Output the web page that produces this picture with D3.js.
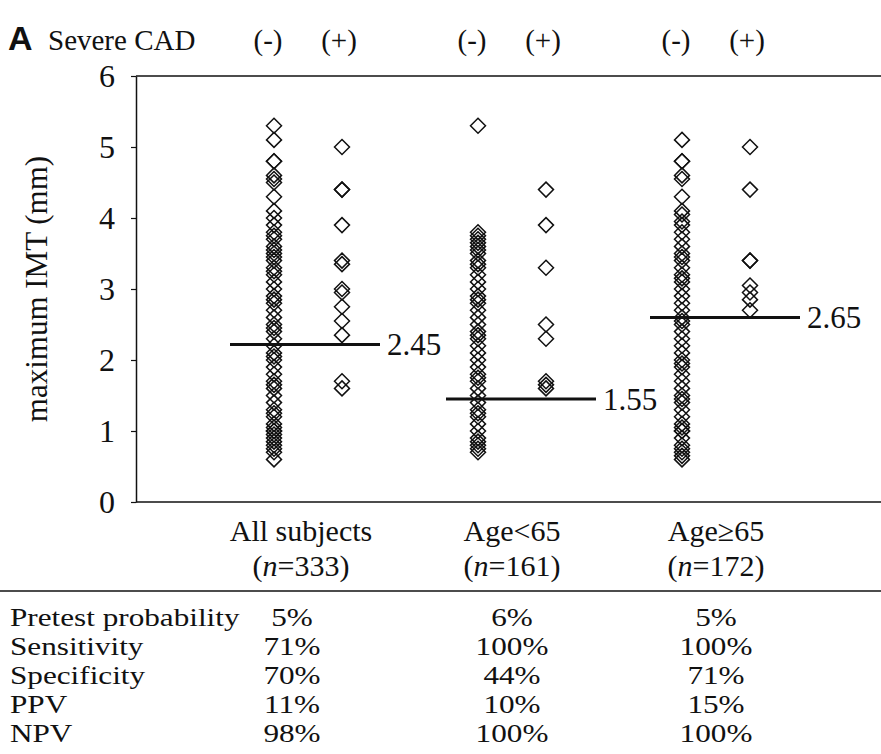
<!DOCTYPE html>
<html>
<head>
<meta charset="utf-8">
<script src="https://cdn.jsdelivr.net/npm/d3@7"></script>
<style>
  body { margin: 0; background: #fff; }
  text { font-family: "Liberation Serif", "Times New Roman", serif; fill: #111; }
</style>
</head>
<body>
<div id="chart"></div>
<script>
// groups along the x axis
const groups = ["All subjects", "Age<65", "Age≥65"];
const groupN = ["333", "161", "172"];
const cutoffLabels = ["2.45", "1.55", "2.65"];
const cutoffLine = [2.22, 1.45, 2.6];

// maximum IMT (mm), severe CAD (-) and (+)
const negAll = [5.3, 5.1, 4.8, 4.8, 4.6, 4.55, 4.5, 4.3, 4.1, 4.0, 3.9, 3.8, 3.75, 3.7, 3.6, 3.55,
  3.5, 3.45, 3.4, 3.3, 3.25, 3.2, 3.1, 3.0, 2.9, 2.85, 2.8, 2.7, 2.6, 2.5, 2.45, 2.4, 2.3, 2.2,
  2.1, 2.05, 2.0, 1.9, 1.8, 1.7, 1.65, 1.6, 1.5, 1.4, 1.3, 1.25, 1.2, 1.1, 1.05, 1.0, 1.0, 0.95,
  0.9, 0.85, 0.8, 0.75, 0.7, 0.6];
const posAll = [5.0, 4.4, 4.4, 3.9, 3.4, 3.35, 3.0, 2.95, 2.75, 2.55, 2.35, 1.7, 1.6];
const negYoung = [5.3, 3.8, 3.75, 3.7, 3.65, 3.6, 3.55, 3.5, 3.4, 3.35, 3.3, 3.2, 3.1, 3.0, 2.9,
  2.85, 2.8, 2.7, 2.6, 2.5, 2.4, 2.35, 2.3, 2.2, 2.1, 2.0, 1.9, 1.8, 1.75, 1.7, 1.6, 1.5, 1.4,
  1.3, 1.25, 1.2, 1.1, 1.0, 0.9, 0.85, 0.8, 0.75, 0.7];
const posYoung = [4.4, 3.9, 3.3, 2.5, 2.3, 1.7, 1.65, 1.6];
const negOld = [5.1, 4.8, 4.8, 4.6, 4.55, 4.3, 4.1, 4.05, 3.95, 3.9, 3.8, 3.7, 3.6, 3.5, 3.45, 3.4,
  3.3, 3.2, 3.15, 3.1, 3.0, 2.9, 2.8, 2.7, 2.6, 2.55, 2.5, 2.4, 2.3, 2.2, 2.1, 2.0, 1.95, 1.9,
  1.8, 1.7, 1.6, 1.5, 1.45, 1.4, 1.3, 1.2, 1.1, 1.05, 1.0, 1.0, 0.9, 0.8, 0.75, 0.7, 0.65, 0.6];
const posOld = [5.0, 4.4, 3.4, 3.4, 3.05, 2.95, 2.85, 2.7];

const negSeries = [negAll, negYoung, negOld];
const posSeries = [posAll, posYoung, posOld];

const yTicks = [0, 1, 2, 3, 4, 5, 6];

// table under the chart
const rowLabels = ["Pretest probability", "Sensitivity", "Specificity", "PPV", "NPV"];
const colAll = ["5%", "71%", "70%", "11%", "98%"];
const colYoung = ["6%", "100%", "44%", "10%", "100%"];
const colOld = ["5%", "100%", "71%", "15%", "100%"];
const tableCols = [colAll, colYoung, colOld];

const W = 881, H = 754;
const plot = { left: 136, top: 76, bottom: 502 };
const sub = 34;      // half distance between (-) and (+) columns
const r = 7.5;       // diamond half diagonal

const svg = d3.select("#chart").append("svg")
  .attr("width", W).attr("height", H);

const x = d3.scalePoint().domain(groups).range([308, 716]);
const y = d3.scaleLinear().domain([0, 6]).range([plot.bottom, plot.top]);

// header
svg.append("text")
  .attr("x", 8).attr("y", 50)
  .style("font-family", "'Liberation Sans', Arial, sans-serif")
  .style("font-weight", "bold").style("font-size", "34px")
  .text("A");
svg.append("text")
  .attr("x", 48).attr("y", 50)
  .style("font-size", "29px")
  .text("Severe CAD");
groups.forEach(g => {
  svg.append("text").attr("x", x(g) - sub - 6).attr("y", 50)
    .attr("text-anchor", "middle").style("font-size", "29px").text("(-)");
  svg.append("text").attr("x", x(g) + sub - 3).attr("y", 50)
    .attr("text-anchor", "middle").style("font-size", "29px").text("(+)");
});

// frame lines
svg.append("line")
  .attr("x1", plot.left).attr("x2", W).attr("y1", y(6)).attr("y2", y(6))
  .attr("stroke", "#111").attr("stroke-width", 1.5);
svg.append("line")
  .attr("x1", plot.left).attr("x2", W).attr("y1", y(0)).attr("y2", y(0))
  .attr("stroke", "#111").attr("stroke-width", 1.5);

const yAxis = svg.append("g")
  .attr("transform", `translate(${plot.left},0)`)
  .call(d3.axisLeft(y).tickValues(yTicks).tickFormat(d3.format("d"))
    .tickSize(5).tickSizeOuter(0).tickPadding(16));
yAxis.select(".domain").attr("stroke", "#111").attr("stroke-width", 1.5);
yAxis.selectAll(".tick line").attr("stroke", "#111").attr("stroke-width", 1.2);
yAxis.selectAll(".tick text")
  .style("font-family", "'Liberation Serif', 'Times New Roman', serif")
  .style("font-size", "32px").attr("fill", "#111");

svg.append("text")
  .attr("transform", `translate(47,${(plot.top + plot.bottom) / 2}) rotate(-90)`)
  .attr("text-anchor", "middle")
  .style("font-size", "31px")
  .text("maximum IMT (mm)");

// diamonds
const diamond = `M0,${-r}L${r},0L0,${r}L${-r},0Z`;
groups.forEach((g, i) => {
  [[negSeries[i], -sub], [posSeries[i], sub]].forEach(([vals, dx]) => {
    svg.append("g").selectAll("path")
      .data(vals)
      .enter()
      .append("path")
      .attr("d", diamond)
      .attr("transform", d => `translate(${x(g) + dx},${y(d)})`)
      .attr("fill", "none")
      .attr("stroke", "#111")
      .attr("stroke-width", 1.5);
  });
});

// cutoff lines and labels
groups.forEach((g, i) => {
  const x0 = x(g) - sub - (i === 0 ? 44 : 32), x1 = x0 + 150;
  svg.append("line")
    .attr("x1", x0).attr("x2", x1)
    .attr("y1", y(cutoffLine[i])).attr("y2", y(cutoffLine[i]))
    .attr("stroke", "#111").attr("stroke-width", 3);
  svg.append("text")
    .attr("x", x1 + 7).attr("y", y(cutoffLine[i]))
    .attr("dy", "0.35em")
    .style("font-size", "31px")
    .text(cutoffLabels[i]);
});

// category labels
groups.forEach((g, i) => {
  const cx = x(g) - (i === 0 ? 7 : 0);
  svg.append("text").attr("x", cx).attr("y", 541)
    .attr("text-anchor", "middle").style("font-size", "30px").text(g);
  const t = svg.append("text").attr("x", cx).attr("y", 576)
    .attr("text-anchor", "middle").style("font-size", "30px");
  t.append("tspan").text("(");
  t.append("tspan").style("font-style", "italic").text("n");
  t.append("tspan").text("=" + groupN[i] + ")");
});

svg.append("line")
  .attr("x1", 0).attr("x2", W).attr("y1", 591).attr("y2", 591)
  .attr("stroke", "#111").attr("stroke-width", 1.5);

// table rows (slightly widened glyphs so the rows do not collide)
const rowY = d3.scalePoint().domain(rowLabels).range([626, 742]);
const sx = 1.2;
rowLabels.forEach((lab, j) => {
  svg.append("text")
    .attr("transform", `translate(10,${rowY(lab)}) scale(${sx},1)`)
    .style("font-size", "26px").text(lab);
  groups.forEach((g, i) => {
    const cx = x(g) - (i === 0 ? 16 : 0);
    svg.append("text")
      .attr("transform", `translate(${cx},${rowY(lab)}) scale(${sx},1)`)
      .attr("text-anchor", "middle").style("font-size", "26px")
      .text(tableCols[i][j]);
  });
});
</script>
</body>
</html>
